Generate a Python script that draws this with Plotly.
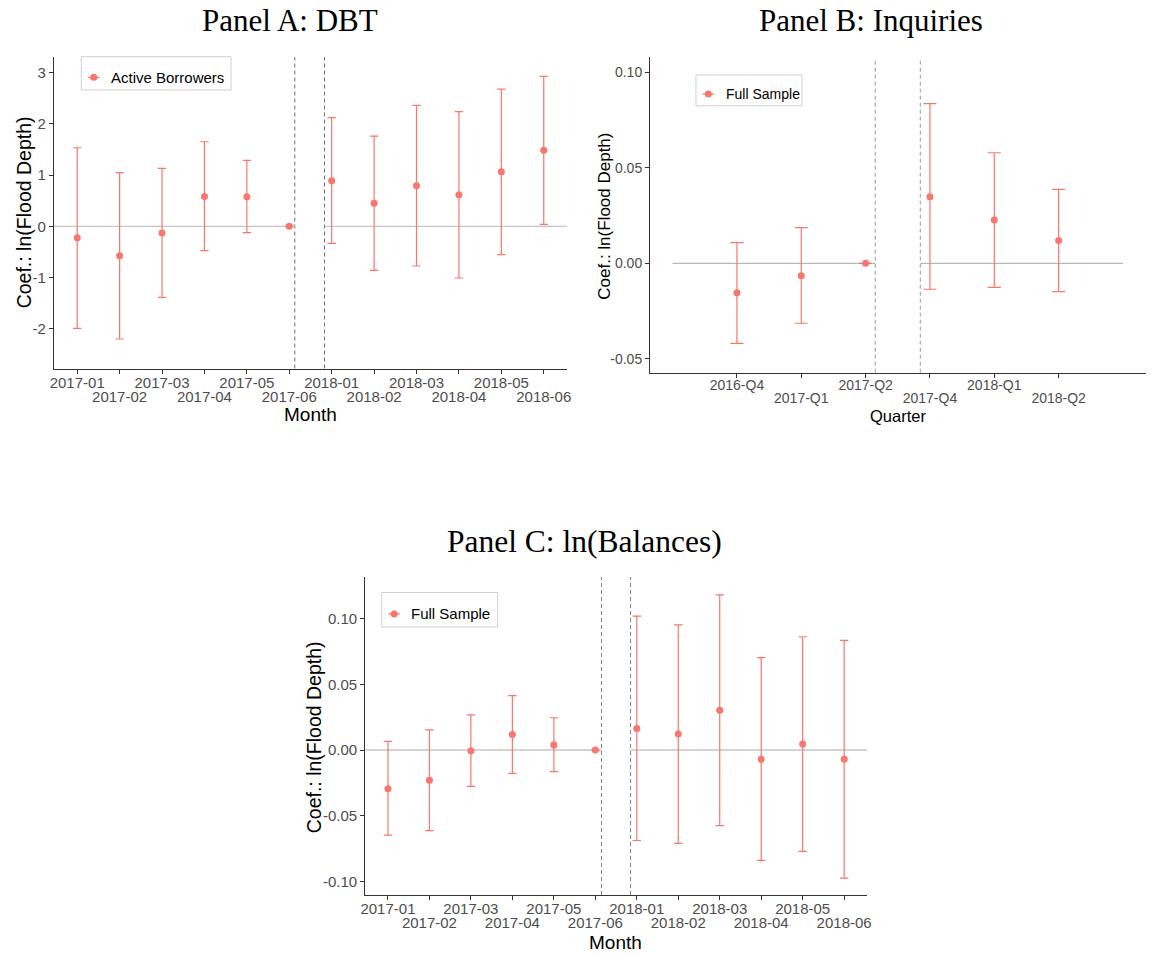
import plotly.graph_objects as go

# ---- data ----------------------------------------------------------------
months = ["2017-01", "2017-02", "2017-03", "2017-04", "2017-05", "2017-06",
          "2018-01", "2018-02", "2018-03", "2018-04", "2018-05", "2018-06"]
quarters = ["2016-Q4", "2017-Q1", "2017-Q2", "2017-Q4", "2018-Q1", "2018-Q2"]

# Panel A: DBT, active borrowers (base period 2017-06 has no interval)
dbt_coef = [-0.221, -0.571, -0.130, 0.584, 0.578, 0.0,
            0.890, 0.448, 0.792, 0.617, 1.065, 1.481]
dbt_lo = [-1.987, -2.195, -1.383, -0.474, -0.123, None,
          -0.331, -0.857, -0.773, -1.006, -0.552, 0.039]
dbt_hi = [1.532, 1.045, 1.130, 1.649, 1.286, None,
          2.117, 1.760, 2.357, 2.234, 2.675, 2.922]

# Panel B: inquiries, full sample (base period 2017-Q2)
inq_coef = [-0.0154, -0.0065, 0.0, 0.0349, 0.0227, 0.0119]
inq_lo = [-0.0419, -0.0314, None, -0.0136, -0.0126, -0.0148]
inq_hi = [0.0108, 0.0187, None, 0.0836, 0.0579, 0.0387]

# Panel C: ln(balances), full sample (base period 2017-06)
bal_coef = [-0.0294, -0.0230, -0.0005, 0.0119, 0.0038, 0.0,
            0.0165, 0.0122, 0.0304, -0.0071, 0.0046, -0.0071]
bal_lo = [-0.0648, -0.0613, -0.0276, -0.0177, -0.0165, None,
          -0.0689, -0.0711, -0.0575, -0.0840, -0.0772, -0.0975]
bal_hi = [0.0066, 0.0154, 0.0268, 0.0415, 0.0246, None,
          0.1020, 0.0954, 0.1182, 0.0704, 0.0863, 0.0835]

# ---- style -----------------------------------------------------------------
RED = "#F8766D"
AXIS = "#333333"
TICKC = "#4D4D4D"
SANS = "Liberation Sans, Arial, sans-serif"
SERIF = "Liberation Serif, Times New Roman, serif"
W, H = 1152, 955


def px_x(p):
    return p / W


def px_y(p):
    return 1 - p / H


fig = go.Figure()


def add_panel(suffix, labels, coef, lo, hi, cap, alt_suffix):
    xs = list(range(len(labels)))
    plus = [None if h is None else h - c for h, c in zip(hi, coef)]
    minus = [None if l is None else c - l for l, c in zip(lo, coef)]
    fig.add_trace(go.Scatter(
        x=xs, y=coef, mode="markers",
        marker=dict(color=RED, size=7),
        error_y=dict(type="data", symmetric=False, array=plus,
                     arrayminus=minus, color=RED, thickness=1.2, width=cap),
        xaxis="x" + suffix, yaxis="y" + suffix, showlegend=False,
        hoverinfo="x+y"))
    # empty trace so the second-row label axis is drawn
    fig.add_trace(go.Scatter(x=[None], y=[None], xaxis="x" + alt_suffix,
                             yaxis="y" + suffix, showlegend=False,
                             hoverinfo="skip"))


add_panel("", months, dbt_coef, dbt_lo, dbt_hi, 4.2, "4")
add_panel("2", quarters, inq_coef, inq_lo, inq_hi, 6.5, "5")
add_panel("3", months, bal_coef, bal_lo, bal_hi, 4.2, "6")


def xaxis_main(domain, rng, labels, size, anchor, standoff):
    # ticks at every category, labels of the first row (even positions)
    return dict(domain=domain, range=rng, anchor=anchor, showgrid=False,
                zeroline=False, showline=True, linecolor=AXIS, linewidth=1.1,
                ticks="outside", ticklen=4, tickcolor=AXIS, tickwidth=1,
                tickvals=list(range(len(labels))),
                ticktext=[t if i % 2 == 0 else "" for i, t in enumerate(labels)],
                tickangle=0, ticklabelstandoff=standoff,
                tickfont=dict(family=SANS, size=size, color=TICKC),
                fixedrange=True)


def xaxis_row2(over, rng, labels, size, anchor, standoff):
    # labels of the second row (odd positions), set lower
    odd = [i for i in range(len(labels)) if i % 2 == 1]
    return dict(overlaying=over, range=rng, anchor=anchor, showgrid=False,
                zeroline=False, showline=False, ticks="",
                tickvals=odd, ticktext=[labels[i] for i in odd],
                tickangle=0, ticklabelstandoff=standoff, side="bottom",
                tickfont=dict(family=SANS, size=size, color=TICKC),
                fixedrange=True)


def yaxis_cfg(domain, rng, vals, text, size, anchor):
    return dict(domain=domain, range=rng, showgrid=False, zeroline=False,
                showline=True, linecolor=AXIS, linewidth=1.1,
                ticks="outside", ticklen=4, tickcolor=AXIS, tickwidth=1,
                tickvals=vals, ticktext=text, anchor=anchor,
                tickfont=dict(family=SANS, size=size, color=TICKC),
                fixedrange=True)


XR_M = [-0.55, 11.55]
XR_Q = [-1.35, 6.35]

fig.update_layout(
    width=W, height=H, margin=dict(l=0, r=0, t=0, b=0),
    paper_bgcolor="white", plot_bgcolor="white", showlegend=False,
    xaxis=xaxis_main([px_x(49.3), px_x(567)], XR_M, months, 15, "y", -4),
    xaxis4=xaxis_row2("x", XR_M, months, 15, "y", 17),
    yaxis=yaxis_cfg([px_y(368.5), px_y(57)], [-2.77, 3.30],
                    [-2, -1, 0, 1, 2, 3], ["-2", "-1", "0", "1", "2", "3"], 15, "x"),
    xaxis2=xaxis_main([px_x(650.7), px_x(1150.5)], XR_Q, quarters, 14, "y2", -5),
    xaxis5=xaxis_row2("x2", XR_Q, quarters, 14, "y2", 15),
    yaxis2=yaxis_cfg([px_y(372.7), px_y(57.3)], [-0.0573, 0.1079],
                     [-0.05, 0.0, 0.05, 0.10], ["-0.05", "0.00", "0.05", "0.10"], 14, "x2"),
    xaxis3=xaxis_main([px_x(363.3), px_x(869.5)], XR_M, months, 15, "y3", -4),
    xaxis6=xaxis_row2("x3", XR_M, months, 15, "y3", 17),
    yaxis3=yaxis_cfg([px_y(895), px_y(577)], [-0.1104, 0.1318],
                     [-0.10, -0.05, 0.0, 0.05, 0.10],
                     ["-0.10", "-0.05", "0.00", "0.05", "0.10"], 15, "x3"),
)

# ---- reference lines: broken zero line and dashed event window ----------
shapes = []


def ref_lines(suffix, zero_segments, dashed_at, zero_color, zero_width, dash_color):
    for x0, x1 in zero_segments:
        shapes.append(dict(type="line", xref="x" + suffix, yref="y" + suffix,
                           x0=x0, x1=x1, y0=0, y1=0, layer="below",
                           line=dict(color=zero_color, width=zero_width)))
    for xv in dashed_at:
        shapes.append(dict(type="line", xref="x" + suffix,
                           yref="y" + suffix + " domain",
                           x0=xv, x1=xv, y0=0, y1=1, layer="below",
                           line=dict(color=dash_color, width=1, dash="4px,3px")))


ref_lines("", [(-0.55, 5.13), (5.83, 11.55)], [5.13, 5.83], "#C4C4C4", 1.4, "#707070")
ref_lines("2", [(-1.0, 2.15), (2.85, 6.0)], [2.15, 2.85], "#A8A8A8", 1.0, "#9A9A9A")
ref_lines("3", [(-0.55, 5.15), (5.85, 11.55)], [5.15, 5.85], "#C4C4C4", 1.4, "#808080")

# ---- text ----------------------------------------------------------------
ann = []


def text(x, y, s, size, family=SANS, angle=0, color="black", xanchor="center"):
    ann.append(dict(x=px_x(x), y=px_y(y), xref="paper", yref="paper",
                    text=s, showarrow=False, textangle=angle, borderpad=0,
                    xanchor=xanchor, yanchor="middle",
                    font=dict(family=family, size=size, color=color)))


# legend keys: framed box, point with a short line, series name
def legend_key(left, top, right, bottom, name, size):
    cy = top + 0.62 * (bottom - top)
    shapes.append(dict(type="rect", xref="paper", yref="paper",
                       x0=px_x(left), x1=px_x(right), y0=px_y(bottom), y1=px_y(top),
                       line=dict(color="#D0D0D0", width=1), fillcolor="white",
                       layer="above"))
    shapes.append(dict(type="line", xref="paper", yref="paper",
                       x0=px_x(left + 6.5), x1=px_x(left + 18.5),
                       y0=px_y(cy), y1=px_y(cy), layer="above",
                       line=dict(color=RED, width=1.2)))
    shapes.append(dict(type="circle", xref="paper", yref="paper",
                       xsizemode="pixel", ysizemode="pixel",
                       xanchor=px_x(left + 12.5), yanchor=px_y(cy),
                       x0=-3.5, x1=3.5, y0=-3.5, y1=3.5, layer="above",
                       fillcolor=RED, line=dict(color=RED, width=0)))
    text(left + 29, cy, name, size, xanchor="left")


legend_key(77, 56.7, 228, 90, "Active Borrowers", 15)
legend_key(697, 75, 804, 105.7, "Full Sample", 14)
legend_key(380, 592.5, 497, 627, "Full Sample", 15)

text(287.5, 20, "Panel A: DBT", 31, SERIF)
text(874, 20, "Panel B: Inquiries", 31, SERIF)
text(585, 541, "Panel C: ln(Balances)", 31.5, SERIF)

text(20, 212.5, "Coef.: ln(Flood Depth)", 19.5, angle=-90)
text(308, 414, "Month", 19)
text(604, 216, "Coef.: ln(Flood Depth)", 17, angle=-90)
text(900.6, 416, "Quarter", 16.5)
text(312, 737, "Coef.: ln(Flood Depth)", 19.5, angle=-90)
text(616, 942, "Month", 19)

fig.update_layout(shapes=shapes, annotations=ann)

fig.write_html("out.html")
